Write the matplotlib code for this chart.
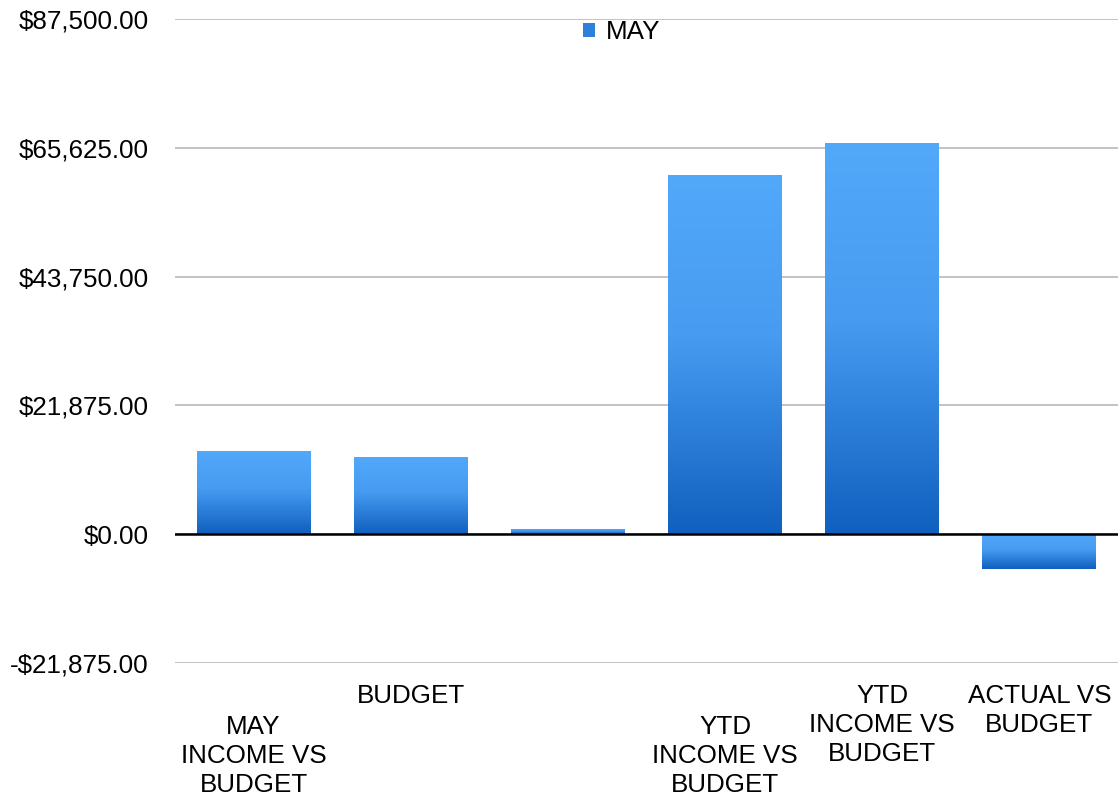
import matplotlib
matplotlib.use("Agg")
import matplotlib.pyplot as plt
import matplotlib.transforms as mtransforms
from matplotlib.colors import LinearSegmentedColormap
from matplotlib.patches import Patch
import numpy as np

# data
categories = ["MAY\nINCOME VS\nBUDGET", "BUDGET", "", "YTD\nINCOME VS\nBUDGET",
              "YTD\nINCOME VS\nBUDGET", "ACTUAL VS\nBUDGET"]
may_values = [14150, 13130, 900, 61080, 66520, -5980]
y_ticks = [-21875, 0, 21875, 43750, 65625, 87500]
series_name = "MAY"

# lower labels are pushed down by one line
label_drop = [1, 0, 0, 1, 0, 0]

plt.rcParams['font.family'] = ['Liberation Sans', 'DejaVu Sans']
FS = 18.7

fig = plt.figure(figsize=(11.18, 8.01), dpi=100)
ax = fig.add_axes([175 / 1118, 1 - 663 / 801, 1 - 175 / 1118, (663 - 19) / 801])

x = np.arange(len(may_values))
bars = ax.bar(x, may_values, width=0.725, facecolor='none', edgecolor='none', zorder=2)

cmap = LinearSegmentedColormap.from_list(
    "bar", [(0.0, "#1060bf"), (0.55, "#479cf1"), (1.0, "#52a8f9")])
grad = np.linspace(0, 1, 256).reshape(-1, 1)
for b in bars:
    x0, y0 = b.get_x(), b.get_y()
    w, h = b.get_width(), b.get_height()
    lo, hi = min(y0, y0 + h), max(y0, y0 + h)
    im = ax.imshow(grad, cmap=cmap, aspect='auto', origin='lower',
                   extent=[x0, x0 + w, lo, hi], zorder=2)
    im.set_clip_path(b)
ax.set_aspect('auto')
ax.set_xlim(-0.5, len(may_values) - 0.5)
ax.set_ylim(y_ticks[0], y_ticks[-1])

ax.set_yticks(y_ticks)
ax.set_yticklabels([f"-${-v:,.2f}" if v < 0 else f"${v:,.2f}" for v in y_ticks])
ax.grid(axis='y', color='#b3b3b3', linewidth=1.1, zorder=0)
ax.set_axisbelow(True)
ax.axhline(0, color='black', linewidth=1.8, zorder=3)

for s in ax.spines.values():
    s.set_visible(False)
ax.tick_params(axis='y', length=0, pad=19, labelsize=FS)
ax.tick_params(axis='x', length=0, pad=15, labelsize=FS)

ax.set_xticks(x)
ax.set_xticklabels(categories, linespacing=1.27)
for lab, d in zip(ax.get_xticklabels(), label_drop):
    if d:
        off = mtransforms.ScaledTranslation(0, -31 / 100, fig.dpi_scale_trans)
        lab.set_transform(lab.get_transform() + off)

handle = Patch(facecolor='#2f80d8', edgecolor='none')
fig.legend([handle], [series_name], loc='center',
           bbox_to_anchor=(622 / 1118, 1 - 32 / 801), frameon=False, fontsize=FS,
           handlelength=0.45, handleheight=0.45, handletextpad=0.42, borderpad=0)

fig.savefig("out.png", dpi=100)
